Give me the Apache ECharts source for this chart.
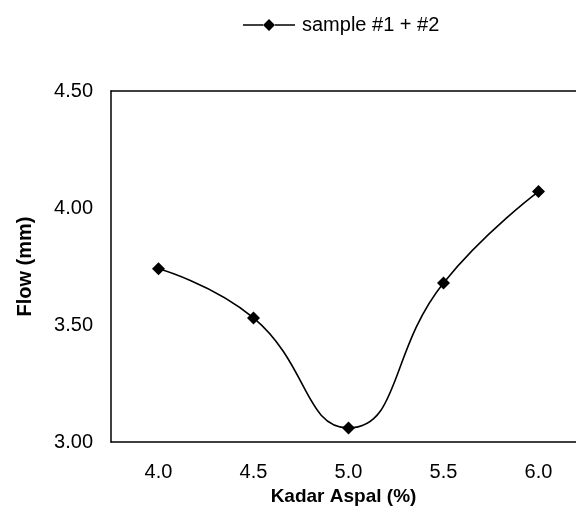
<!DOCTYPE html>
<html>
<head>
<meta charset="utf-8">
<script src="https://cdn.jsdelivr.net/npm/echarts@6/dist/echarts.min.js"></script>
<style>
  html, body { margin: 0; padding: 0; background: #fff; overflow: hidden; }
  #chart { width: 600px; height: 532px; }
</style>
</head>
<body>
<div id="chart"></div>
<script>
// Asphalt content (%) on the x axis, flow (mm) on the y axis
const kadarAspal = ['4.0', '4.5', '5.0', '5.5', '6.0'];
const flowSample = [3.74, 3.53, 3.06, 3.68, 4.07];
const seriesName = 'sample #1 + #2';

const chart = echarts.init(document.getElementById('chart'));
const font = 'Liberation Sans, Arial, sans-serif';

// legend key: line with a diamond in the middle
const lineDiamondIcon = 'path://M0,5.2 L20,5.2 L20,6.8 L0,6.8 Z M20,6 L26,0 L32,6 L26,12 Z M32,5.2 L52,5.2 L52,6.8 L32,6.8 Z';

chart.setOption({
  animation: false,
  backgroundColor: '#fff',
  legend: {
    data: [{ name: seriesName, icon: lineDiamondIcon }],
    top: 10,
    left: 238,
    itemWidth: 52,
    itemHeight: 12,
    itemGap: 4,
    textStyle: { fontFamily: font, fontSize: 20, color: '#000', padding: [0, 0, 0, 2] }
  },
  // plot area runs past the right edge of the visible page
  grid: { left: 111, top: 91, right: 14, bottom: 90 },
  xAxis: [{
    type: 'category',
    data: kadarAspal,
    boundaryGap: true,
    name: 'Kadar Aspal (%)',
    nameLocation: 'middle',
    nameGap: 45,
    nameTextStyle: { fontFamily: font, fontSize: 19, fontWeight: 'bold', color: '#000', padding: [0, 10, 0, 0] },
    axisLine: { lineStyle: { color: '#000', width: 1.5 } },
    axisTick: { show: false },
    axisLabel: { fontFamily: font, fontSize: 20, color: '#000', margin: 20 },
    splitLine: { show: false }
  }, {
    type: 'category',
    data: kadarAspal,
    position: 'top',
    axisLine: { lineStyle: { color: '#000', width: 1.5 } },
    axisTick: { show: false },
    axisLabel: { show: false },
    splitLine: { show: false }
  }],
  yAxis: {
    type: 'value',
    min: 3,
    max: 4.5,
    interval: 0.5,
    name: 'Flow (mm)',
    nameLocation: 'middle',
    nameGap: 76,
    nameRotate: 90,
    nameTextStyle: { fontFamily: font, fontSize: 20, fontWeight: 'bold', color: '#000' },
    axisLine: { show: true, lineStyle: { color: '#000', width: 1.5 } },
    axisTick: { show: false },
    axisLabel: { fontFamily: font, fontSize: 20, color: '#000', margin: 18, formatter: v => v.toFixed(2) },
    splitLine: { show: false }
  },
  series: [{
    name: seriesName,
    type: 'line',
    data: flowSample,
    smooth: 0.5,
    symbol: 'diamond',
    symbolSize: 13,
    itemStyle: { color: '#000' },
    lineStyle: { color: '#000', width: 1.6 }
  }]
});
</script>
</body>
</html>
